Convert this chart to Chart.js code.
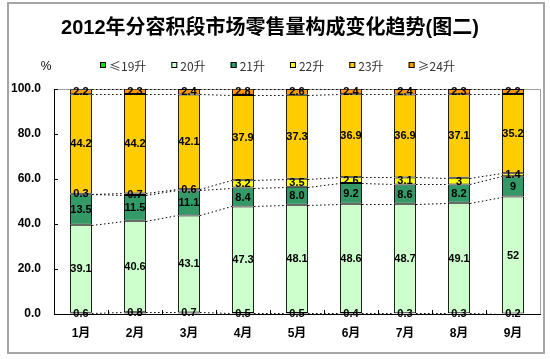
<!DOCTYPE html>
<html>
<head>
<meta charset="utf-8">
<script src="https://cdn.jsdelivr.net/npm/chart.js@4/dist/chart.umd.min.js"></script>
<style>
  html, body { margin: 0; padding: 0; background: #fff; }
  #wrap { width: 550px; height: 359px; }
</style>
</head>
<body>
<div id="wrap"><canvas id="c" width="550" height="359"></canvas></div>
<script>
// ---- data ----
const months = ['1月', '2月', '3月', '4月', '5月', '6月', '7月', '8月', '9月'];
const seriesNames = ['≤19升', '20升', '21升', '22升', '23升', '≥24升'];
const s19 = ['0.6', '0.8', '0.7', '0.5', '0.5', '0.4', '0.3', '0.3', '0.2'];
const s20 = ['39.1', '40.6', '43.1', '47.3', '48.1', '48.6', '48.7', '49.1', '52'];
const s21 = ['13.5', '11.5', '11.1', '8.4', '8.0', '9.2', '8.6', '8.2', '9'];
const s22 = ['0.3', '0.7', '0.6', '3.2', '3.5', '2.6', '3.1', '3', '1.4'];
const s23 = ['44.2', '44.2', '42.1', '37.9', '37.3', '36.9', '36.9', '37.1', '35.2'];
const s24 = ['2.2', '2.3', '2.4', '2.8', '2.6', '2.4', '2.4', '2.3', '2.2'];
const yMin = 0, yMax = 100, yStep = 20;
const titleText = '2012年分容积段市场零售量构成变化趋势(图二)';
const unitText = '%';

// ---- styles ----
const colors = ['#00E000', '#CCFFCC', '#339966', '#FFFF00', '#FFCC00', '#FF9900'];
const FONT = "'Liberation Sans', 'Noto Sans CJK SC', Arial, sans-serif";
const LEGEND_FONT = "'Noto Sans CJK SC', 'Liberation Sans', sans-serif";
const allSeries = [s19, s20, s21, s22, s23, s24];

const datasets = allSeries.map((s, k) => ({
  label: seriesNames[k],
  data: s.map(Number),
  rawLabels: s,
  backgroundColor: colors[k],
  borderColor: '#000',
  borderWidth: 1,
  borderSkipped: false,
  categoryPercentage: 1.0,
  barPercentage: 0.41
}));

const decor = {
  id: 'decor',
  beforeDraw(chart) {
    const ctx = chart.ctx;
    ctx.save();
    ctx.fillStyle = '#fff';
    ctx.fillRect(0, 0, chart.width, chart.height);
    ctx.strokeStyle = '#A6A6A6';
    ctx.lineWidth = 2;
    ctx.strokeRect(8, 3, chart.width - 14, chart.height - 9);
    ctx.restore();
  },
  beforeDatasetsDraw(chart) {
    const ctx = chart.ctx, a = chart.chartArea;
    ctx.save();
    // plot area top & right border
    ctx.strokeStyle = '#A0A0A0';
    ctx.lineWidth = 1;
    ctx.beginPath();
    ctx.moveTo(a.left, Math.round(a.top) + 0.5);
    ctx.lineTo(Math.round(a.right) + 0.5, Math.round(a.top) + 0.5);
    ctx.lineTo(Math.round(a.right) + 0.5, a.bottom);
    ctx.stroke();
    // inward tick marks
    const xs = chart.scales.x, ys = chart.scales.y;
    ctx.strokeStyle = '#000';
    ctx.beginPath();
    ys.ticks.forEach(t => {
      const y = Math.round(ys.getPixelForValue(t.value)) + 0.5;
      ctx.moveTo(a.left, y); ctx.lineTo(a.left + 4, y);
    });
    for (let i = 0; i < months.length - 1; i++) {
      const x = Math.round((xs.getPixelForValue(i) + xs.getPixelForValue(i + 1)) / 2) + 0.5;
      ctx.moveTo(x, a.bottom); ctx.lineTo(x, a.bottom - 4);
    }
    ctx.stroke();
    ctx.restore();
  },
  afterDatasetsDraw(chart) {
    const ctx = chart.ctx;
    ctx.save();
    // series lines (dotted)
    ctx.strokeStyle = '#000';
    ctx.lineWidth = 1;
    ctx.setLineDash([1.5, 2.5]);
    chart.data.datasets.forEach((ds, k) => {
      const meta = chart.getDatasetMeta(k);
      ctx.beginPath();
      for (let i = 0; i < meta.data.length - 1; i++) {
        const e = meta.data[i], n = meta.data[i + 1];
        ctx.moveTo(e.x + e.width / 2, Math.round(e.y) + 0.5);
        ctx.lineTo(n.x - n.width / 2, Math.round(n.y) + 0.5);
      }
      ctx.stroke();
    });
    ctx.setLineDash([]);
    // value labels
    ctx.fillStyle = '#000';
    ctx.font = 'bold 11px ' + FONT;
    ctx.textAlign = 'center';
    ctx.textBaseline = 'middle';
    chart.data.datasets.forEach((ds, k) => {
      const meta = chart.getDatasetMeta(k);
      meta.data.forEach((e, i) => {
        ctx.fillText(ds.rawLabels[i], e.x, (e.y + e.base) / 2 + 0.5);
      });
    });
    ctx.restore();
  },
  afterDraw(chart) {
    const ctx = chart.ctx;
    ctx.save();
    // unit
    ctx.fillStyle = '#000';
    ctx.font = '12px ' + FONT;
    ctx.textAlign = 'center';
    ctx.textBaseline = 'middle';
    ctx.fillText(unitText, 46, 67);
    // legend
    const box = 6, gapBox = 3, gapItem = 25;
    let x = 100;
    const yc = 65;
    ctx.font = '12px ' + LEGEND_FONT;
    ctx.textAlign = 'left';
    chart.data.datasets.forEach((ds) => {
      ctx.fillStyle = ds.backgroundColor;
      ctx.fillRect(x, yc - box / 2, box, box);
      ctx.strokeStyle = '#000';
      ctx.lineWidth = 1;
      ctx.strokeRect(x + 0.5, yc - box / 2 + 0.5, box - 1, box - 1);
      ctx.fillStyle = '#333';
      const tx = x + box + gapBox;
      ctx.fillText(ds.label, tx, yc + 1);
      x = tx + ctx.measureText(ds.label).width + gapItem;
    });
    ctx.restore();
  }
};

new Chart(document.getElementById('c'), {
  type: 'bar',
  data: { labels: months, datasets },
  plugins: [decor],
  options: {
    responsive: false,
    animation: false,
    devicePixelRatio: 1,
    layout: { padding: { top: 0, left: 0, right: 10, bottom: 0 } },
    plugins: {
      legend: { display: false },
      tooltip: { enabled: false },
      title: {
        display: true,
        text: titleText,
        color: '#000',
        font: { family: FONT, size: 20, weight: 'bold', lineHeight: 1.2 },
        padding: { top: 16, bottom: 49 }
      }
    },
    scales: {
      x: {
        stacked: true,
        afterFit(s) { s.height = 45; },
        grid: { drawOnChartArea: false, drawTicks: false },
        border: { display: true, color: '#000', width: 1 },
        ticks: { color: '#000', padding: 12, font: { family: FONT, size: 12, weight: 'bold' } }
      },
      y: {
        stacked: true,
        min: yMin, max: yMax,
        afterFit(s) { s.width = 54; },
        grid: { drawOnChartArea: false, drawTicks: false },
        border: { display: true, color: '#000', width: 1 },
        ticks: {
          stepSize: yStep,
          color: '#000',
          padding: 13,
          font: { family: FONT, size: 12, weight: 'bold' },
          callback: v => Number(v).toFixed(1)
        }
      }
    }
  }
});
</script>
</body>
</html>
